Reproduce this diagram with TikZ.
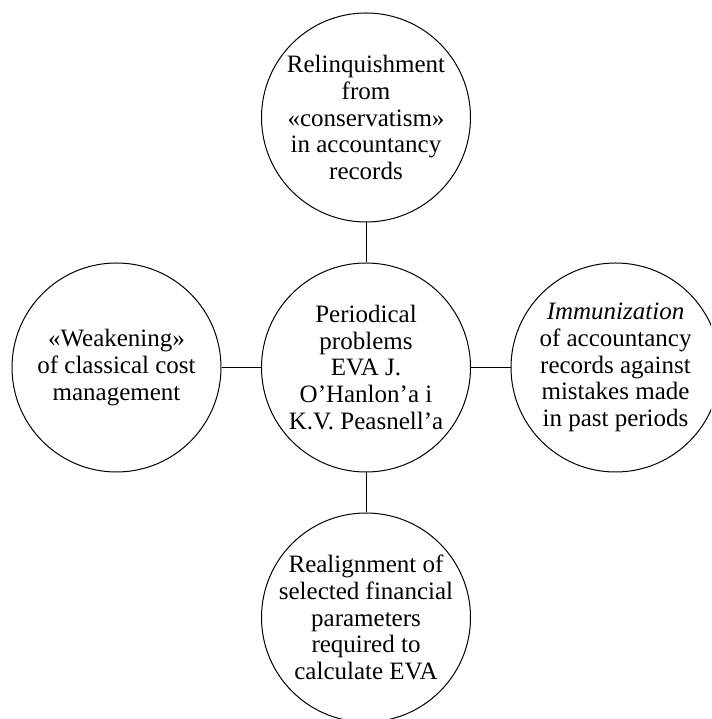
\documentclass[tikz,border=0pt]{standalone}
\usepackage{fontspec}
\setmainfont{Liberation Serif}
\begin{document}
\begin{tikzpicture}[x=1pt,y=1pt,
  bubble/.style={draw, circle, line width=1pt, minimum size=209pt, inner sep=-30pt,
    align=center, font=\fontsize{25}{26.7}\selectfont},
  link/.style={line width=1pt}]
\useasboundingbox (0,0) rectangle (711,719);
\clip (0,0) rectangle (711,719);
\node[bubble] (c) at (366,351.5) {Periodical\\problems\\EVA J.\\O’Hanlon’a i\\K.V. Peasnell’a};
\node[bubble] (t) at (366,601.5) {Relinquishment\\from\\«conservatism»\\in accountancy\\records};
\node[bubble] (l) at (116.5,351.5) {«Weakening»\\of classical cost\\management};
\node[bubble] (r) at (615.5,351.5) {\textit{Immunization}\\of accountancy\\records against\\mistakes made\\in past periods};
\node[bubble] (b) at (366,101.5) {Realignment of\\selected financial\\parameters\\required to\\calculate EVA};
\draw[link] (c) -- (t);
\draw[link] (c) -- (l);
\draw[link] (c) -- (r);
\draw[link] (c) -- (b);
\end{tikzpicture}
\end{document}
